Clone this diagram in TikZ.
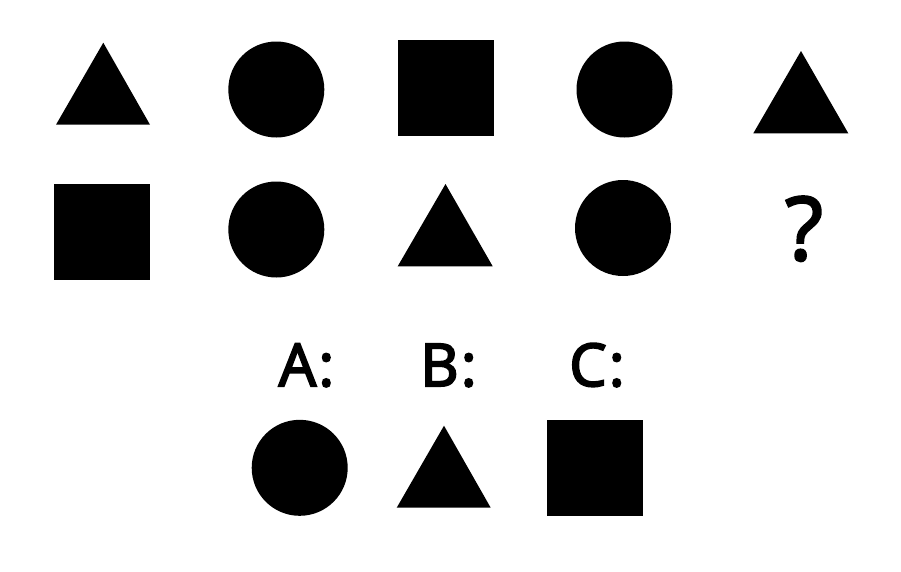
\documentclass[tikz,border=0pt]{standalone}
\usepackage{fontspec}
\setmainfont{Open Sans}
\newfontfamily\semib{Open Sans}[FakeBold=3.4,LetterSpace=4]
\newfontfamily\qfont{Open Sans}[FakeBold=2.6]
\begin{document}
\begin{tikzpicture}[x=1pt,y=-1pt,
  shp/.style={fill=black,draw=none},
  lab/.style={inner sep=0pt,anchor=base,font=\fontsize{59}{59}\selectfont\semib},
  qm/.style={inner sep=0pt,anchor=base,font=\fontsize{88}{88}\selectfont\qfont}]
\useasboundingbox[fill=white] (0,0) rectangle (901,571);
% row 1
\fill[shp] (103.3,42.7) -- (150,124.7) -- (56,124.7) -- cycle;
\fill[shp] (276.3,89.5) circle (48);
\fill[shp] (397.7,40) rectangle (494,136);
\fill[shp] (624.5,89.5) circle (48);
\fill[shp] (801,51) -- (848.3,133.3) -- (753.3,133.3) -- cycle;
% row 2
\fill[shp] (54.3,184.3) rectangle (150.3,280.3);
\fill[shp] (276.3,229.5) circle (48);
\fill[shp] (445.5,184) -- (492.7,266.3) -- (397.7,266.3) -- cycle;
\fill[shp] (623,228) circle (48);
\node[qm] (q) at (804,260) {?};
% labels
\node[lab] (la) at (306.5,386) {A:};
\node[lab] (lb) at (448.5,386) {B:};
\node[lab] (lc) at (597,386) {C:};
% row 3
\fill[shp] (299.7,467.8) circle (48);
\fill[shp] (444,425.7) -- (490.7,507.7) -- (396.7,507.7) -- cycle;
\fill[shp] (546.7,420) rectangle (642.7,515.7);
\end{tikzpicture}
\end{document}
